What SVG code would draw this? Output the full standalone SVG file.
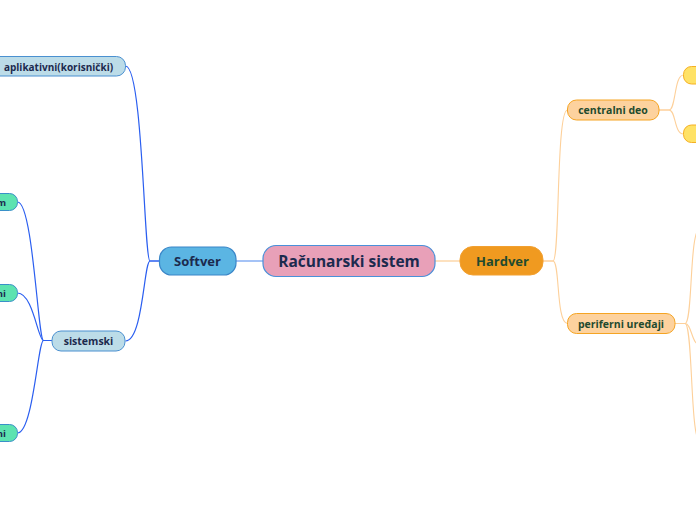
<svg xmlns="http://www.w3.org/2000/svg" width="696" height="520" viewBox="0 0 696 520">
<style>
text{font-family:"Open Sans","Noto Sans","Liberation Sans",sans-serif;font-weight:bold;text-anchor:middle;dominant-baseline:central}
.navy{fill:#1c2a4e}
.green{fill:#1f4a2e}
.lb{fill:#bcdce8;stroke:#4a90d0;stroke-width:1}
.gr{fill:#5de3b0;stroke:#3a90c8;stroke-width:1}
.pe{fill:#fdd29e;stroke:#f5a423;stroke-width:1}
.ye{fill:#ffe266;stroke:#f5b025;stroke-width:1}
.cb{fill:none;stroke:#2a5ef0;stroke-width:1.2}
.co{fill:none;stroke:#fdd09a;stroke-width:1.1}
</style>
<rect width="696" height="520" fill="#ffffff"/>
<g id="connectors">
<path class="cb" d="M236,261 L263,261" style="stroke:#6a9cf0"/>
<path class="co" d="M435,261 L460,261" style="stroke:#fcc88a"/>
<path class="cb" d="M159.5,261 L150,261 C144,261 143,66 125.5,66"/>
<path class="cb" d="M159.5,261 L150,261 C144,261 143,341 125.5,341"/>
<path class="cb" d="M52,340.5 L43.5,340.5 C38,340.5 33,202 17.5,202"/>
<path class="cb" d="M52,340.5 L43.5,340.5 C38,340.5 33,293 17.5,293"/>
<path class="cb" d="M52,340.5 L43.5,340.5 C38,340.5 33,433 17.5,433"/>
<path class="co" d="M543,261 L553,261 C560,261 556,110 567.5,110"/>
<path class="co" d="M543,261 L553,261 C560,261 556,323.5 567.5,323.5"/>
<path class="co" d="M659,110 L669,110 C676,110 674,75 683.5,75"/>
<path class="co" d="M659,110 L669,110 C676,110 674,134 683.5,134"/>
<path class="co" d="M675,323.5 L685,323.5 C693,323.5 689,230 700,228"/>
<path class="co" d="M675,323.5 L685,323.5 C692,323.5 691,344 700,345"/>
<path class="co" d="M675,323.5 L685,323.5 C693,323.5 690,440 700,442"/>
</g>
<g id="node-racunarski-sistem">
<rect x="263" y="245.5" width="172" height="31" rx="13" fill="#e8a0b8" stroke="#4a90d9" stroke-width="1.2"/>
<text x="349" y="261" class="navy" font-size="15.5">Računarski sistem</text>
</g>
<g id="node-softver">
<rect x="159.5" y="247" width="76.5" height="28" rx="12" fill="#5bb5e3" stroke="#3a86c8" stroke-width="1.2"/>
<text x="197.5" y="261" class="navy" font-size="13">Softver</text>
</g>
<g id="node-hardver">
<rect x="460" y="246.5" width="83" height="28.5" rx="13" fill="#f09a20" stroke="#f2a030" stroke-width="1"/>
<text x="502.5" y="261" class="green" font-size="13">Hardver</text>
</g>
<g id="node-aplikativni">
<rect x="-10" y="56.5" width="135.5" height="19.5" rx="9" class="lb"/>
<text x="58.5" y="66.5" class="navy" font-size="10">aplikativni(korisnički)</text>
</g>
<g id="node-sistemski">
<rect x="52" y="331" width="73" height="20" rx="9" class="lb"/>
<text x="88.5" y="341" class="navy" font-size="10.5">sistemski</text>
</g>
<g id="node-sys-1">
<rect x="-60" y="193.5" width="77.5" height="17" rx="8" class="gr"/>
<text x="6" y="202" class="navy" font-size="9.5" style="text-anchor:end">m</text>
</g>
<g id="node-sys-2">
<rect x="-60" y="284.5" width="77.5" height="17" rx="8" class="gr"/>
<text x="6" y="293" class="navy" font-size="9.5" style="text-anchor:end">ni</text>
</g>
<g id="node-sys-3">
<rect x="-60" y="424.5" width="77.5" height="17" rx="8" class="gr"/>
<text x="6" y="433" class="navy" font-size="9.5" style="text-anchor:end">ni</text>
</g>
<g id="node-centralni-deo">
<rect x="567.5" y="100" width="91.5" height="20" rx="9" class="pe"/>
<text x="613" y="110" class="green" font-size="10.5">centralni deo</text>
</g>
<g id="node-periferni">
<rect x="567.5" y="313.5" width="107.5" height="20" rx="9" class="pe"/>
<text x="621" y="323.5" class="green" font-size="10.5">periferni uređaji</text>
</g>
<g id="node-cd-1">
<rect x="683.5" y="66.5" width="40" height="17.5" rx="8" class="ye"/>
</g>
<g id="node-cd-2">
<rect x="683.5" y="125" width="40" height="17.5" rx="8" class="ye"/>
</g>
</svg>
